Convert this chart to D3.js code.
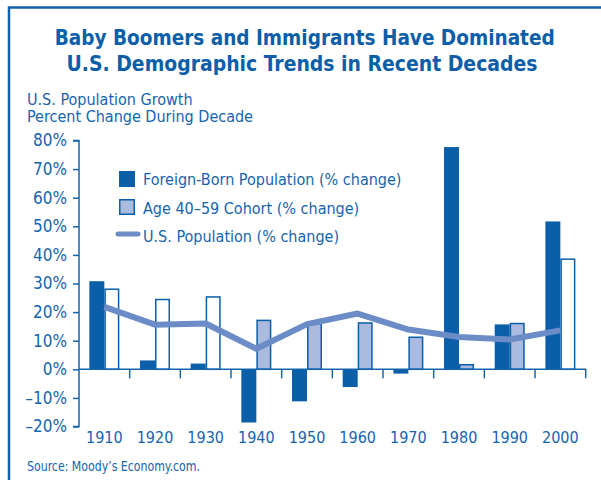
<!DOCTYPE html>
<html>
<head>
<meta charset="utf-8">
<script src="https://cdn.jsdelivr.net/npm/d3@7"></script>
<style>
  body { margin: 0; background: #fff; }
  text { font-family: "Liberation Sans Narrow", "DejaVu Sans Condensed", "Roboto Condensed", sans-serif; }
</style>
</head>
<body>
<svg id="chart" width="601" height="480"></svg>
<script>
// Data.
var years = ['1910', '1920', '1930', '1940', '1950', '1960', '1970', '1980', '1990', '2000'];
var foreignBorn = [30.8, 3.1, 2.0, -18.6, -11.2, -6.2, -1.5, 77.7, 15.7, 51.7];
var cohort4059 = [28.0, 24.4, 25.3, 17.1, 16.0, 16.2, 11.2, 1.6, 16.0, 38.5];
var usPopulation = [21.8, 15.6, 16.0, 7.2, 15.8, 19.5, 13.9, 11.3, 10.4, 13.6];
var yTicks = [-20, -10, 0, 10, 20, 30, 40, 50, 60, 70, 80];
var legendLabels = ['Foreign-Born Population (% change)', 'Age 40\u201359 Cohort (% change)', 'U.S. Population (% change)'];

// Styles.
var BLUE = '#0b5ea8';
var TEXT_BLUE = '#1565ae';
var LIGHT = '#abbadf';
var LINE = '#6b8cc6';
var HOLLOW_YEARS = ['1910', '1920', '1930', '2000']; // cohort bars drawn white in the original
var BAR_W = 15;

var svg = d3.select('#chart');

// Frame on the top and left.
svg.append('path')
  .attr('d', 'M9,480 L9,7.5 L601,7.5')
  .attr('fill', 'none')
  .attr('stroke', '#1060ab')
  .attr('stroke-width', 2.5);

// Titles (squeezed to the width of the condensed original).
svg.append('text')
  .attr('x', 304.7).attr('y', 44.5)
  .attr('text-anchor', 'middle')
  .attr('font-size', 22).attr('font-weight', 'bold')
  .attr('textLength', 500).attr('lengthAdjust', 'spacingAndGlyphs')
  .attr('fill', BLUE)
  .text('Baby Boomers and Immigrants Have Dominated');
svg.append('text')
  .attr('x', 302).attr('y', 70.5)
  .attr('text-anchor', 'middle')
  .attr('font-size', 22).attr('font-weight', 'bold')
  .attr('textLength', 471).attr('lengthAdjust', 'spacingAndGlyphs')
  .attr('fill', BLUE)
  .text('U.S. Demographic Trends in Recent Decades');

svg.append('text')
  .attr('x', 27).attr('y', 104.5)
  .attr('font-size', 16).attr('fill', TEXT_BLUE)
  .text('U.S. Population Growth');
svg.append('text')
  .attr('x', 27).attr('y', 122)
  .attr('font-size', 16).attr('fill', TEXT_BLUE)
  .text('Percent Change During Decade');

// Scales.
var x = d3.scaleBand().domain(years).range([79, 585.7]).padding(0);
var y = d3.scaleLinear().domain([-20, 80]).range([426.5, 140.5]);

var plot = svg.append('g');

// Y axis.
var yAxis = d3.axisLeft(y)
  .tickValues(yTicks)
  .tickSize(6)
  .tickPadding(6)
  .tickFormat(function(d){ return (d < 0 ? '\u2013' + (-d) : d) + '%'; });
var yg = plot.append('g').attr('transform', 'translate(79,0)').call(yAxis);
yg.select('.domain').attr('stroke', TEXT_BLUE).attr('stroke-width', 1.5)
  .attr('d', 'M-6,' + y(80) + 'H0V' + y(-20) + 'H-6');
yg.selectAll('.tick line').attr('stroke', TEXT_BLUE).attr('stroke-width', 1.5);
yg.selectAll('.tick text')
  .attr('fill', TEXT_BLUE)
  .attr('font-size', 17)
  .style('font-family', '"Liberation Sans Narrow", "DejaVu Sans Condensed", sans-serif');

// Bars.
var groups = years.map(function(d, i){
  return {year: d, fb: foreignBorn[i], co: cohort4059[i]};
});

plot.selectAll('rect.fb')
  .data(groups)
  .enter()
  .append('rect')
  .attr('class', 'fb')
  .attr('x', function(d){ return x(d.year) + x.bandwidth() / 2 - BAR_W; })
  .attr('y', function(d){ return y(Math.max(0, d.fb)); })
  .attr('width', BAR_W)
  .attr('height', function(d){ return Math.abs(y(d.fb) - y(0)); })
  .attr('fill', BLUE);

plot.selectAll('rect.co')
  .data(groups)
  .enter()
  .append('rect')
  .attr('class', 'co')
  .attr('x', function(d){ return x(d.year) + x.bandwidth() / 2 + 0.75; })
  .attr('y', function(d){ return y(Math.max(0, d.co)); })
  .attr('width', BAR_W - 1.5)
  .attr('height', function(d){ return Math.abs(y(d.co) - y(0)); })
  .attr('fill', function(d){ return HOLLOW_YEARS.indexOf(d.year) >= 0 ? '#fff' : LIGHT; })
  .attr('stroke', BLUE)
  .attr('stroke-width', 1.5);

// X axis along zero, ticks between decades.
var xAxis = d3.axisBottom(x).tickSize(0).tickPadding(0).tickFormat('');
var xg = plot.append('g').attr('transform', 'translate(0,' + y(0) + ')').call(xAxis);
xg.select('.domain').attr('stroke', TEXT_BLUE).attr('stroke-width', 1.5)
  .attr('d', 'M79,0H585.7V9');
xg.selectAll('.tick').remove();
xg.selectAll('line.sep')
  .data(years.slice(1))
  .enter()
  .append('line')
  .attr('class', 'sep')
  .attr('x1', function(d){ return x(d); })
  .attr('x2', function(d){ return x(d); })
  .attr('y1', 0).attr('y2', 9)
  .attr('stroke', TEXT_BLUE).attr('stroke-width', 1.5);

plot.selectAll('text.year')
  .data(years)
  .enter()
  .append('text')
  .attr('class', 'year')
  .attr('x', function(d){ return x(d) + x.bandwidth() / 2; })
  .attr('y', 443)
  .attr('text-anchor', 'middle')
  .attr('font-size', 16)
  .attr('fill', TEXT_BLUE)
  .text(function(d){ return d; });

// U.S. population line.
var line = d3.line()
  .x(function(d, i){ return x(years[i]) + x.bandwidth() / 2; })
  .y(function(d){ return y(d); });
plot.append('path')
  .datum(usPopulation)
  .attr('d', line)
  .attr('fill', 'none')
  .attr('stroke', LINE)
  .attr('stroke-width', 6)
  .attr('stroke-linejoin', 'round');

// Legend.
var legend = svg.append('g').attr('transform', 'translate(119,171)');
legend.append('rect')
  .attr('x', 0).attr('y', 0).attr('width', 16).attr('height', 16)
  .attr('fill', BLUE);
legend.append('rect')
  .attr('x', 0.75).attr('y', 28.75).attr('width', 14.5).attr('height', 14.5)
  .attr('fill', LIGHT).attr('stroke', BLUE).attr('stroke-width', 1.5);
legend.append('line')
  .attr('x1', -1).attr('x2', 19).attr('y1', 63).attr('y2', 63)
  .attr('stroke', LINE).attr('stroke-width', 5).attr('stroke-linecap', 'round');
legend.selectAll('text')
  .data(legendLabels)
  .enter()
  .append('text')
  .attr('x', 24)
  .attr('y', function(d, i){ return 14 + i * 28.5; })
  .attr('font-size', 16)
  .attr('fill', TEXT_BLUE)
  .text(function(d){ return d; });

// Source.
svg.append('text')
  .attr('x', 27).attr('y', 471)
  .attr('font-size', 13.5)
  .attr('textLength', 173).attr('lengthAdjust', 'spacingAndGlyphs')
  .attr('fill', TEXT_BLUE)
  .text('Source: Moody\u2019s Economy.com.');
</script>
</body>
</html>
